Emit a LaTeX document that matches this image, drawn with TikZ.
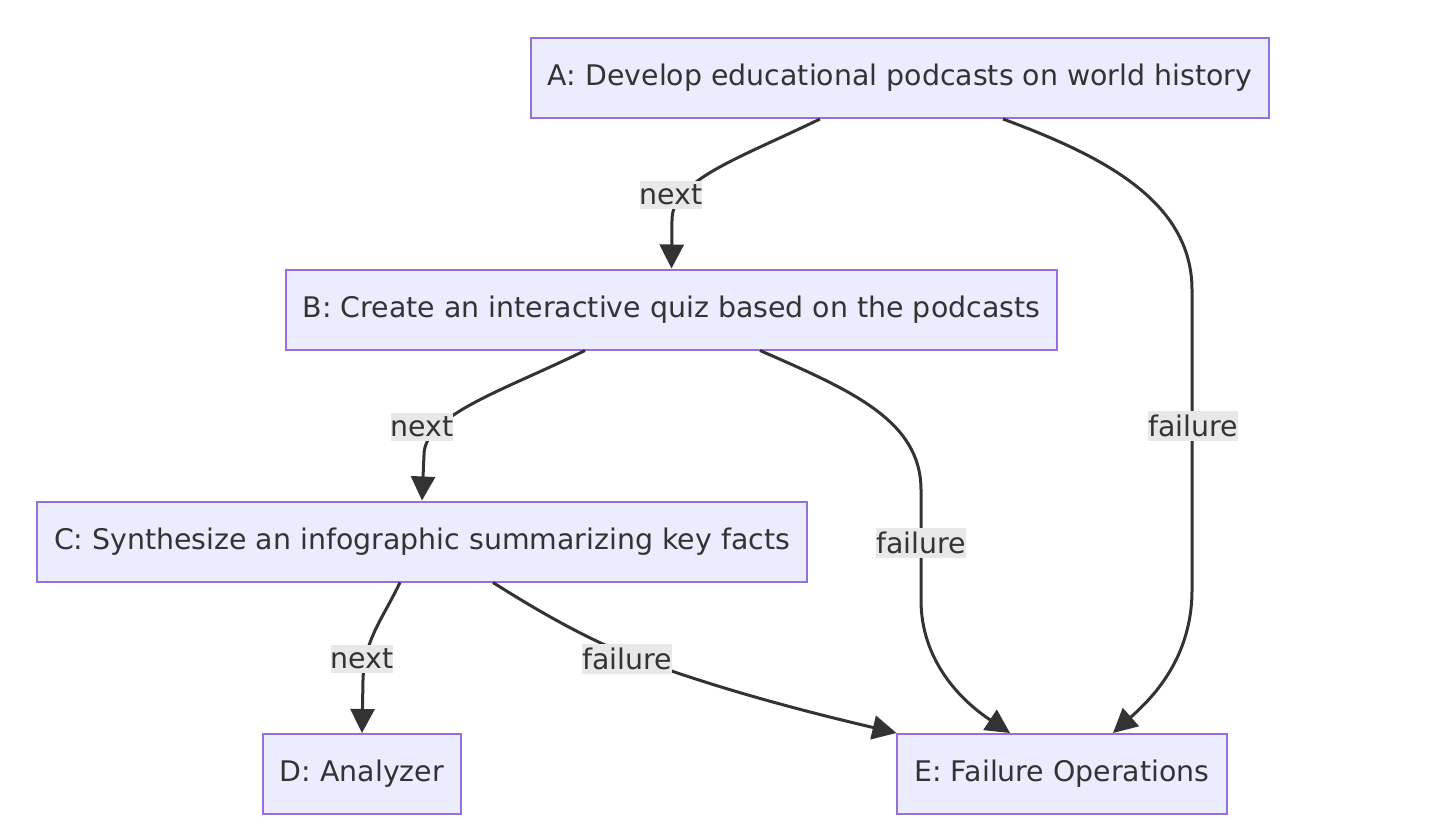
\documentclass[tikz,border=0pt]{standalone}
\usepackage{fontspec}
\setmainfont{DejaVu Sans}
\usetikzlibrary{arrows.meta}

\definecolor{boxfill}{HTML}{ECECFF}
\definecolor{boxline}{HTML}{9370DB}
\definecolor{ink}{HTML}{333333}
\definecolor{lblfill}{HTML}{E8E8E8}

\tikzset{
  stage/.style={draw=boxline, fill=boxfill, line width=1pt, text=ink,
    inner xsep=8.5pt, minimum height=40pt, font=\fontsize{14.2}{17}\selectfont},
  flow/.style={draw=ink, line width=1.5pt, -{Triangle[length=12pt,width=12pt]}},
  lbl/.style={fill=lblfill, text=ink, inner xsep=0pt, inner ysep=2pt,
    font=\fontsize{14.2}{17}\selectfont}
}

\begin{document}
\begin{tikzpicture}[x=0.5pt,y=-0.5pt]
   \useasboundingbox (0,0) rectangle (1434,840);
   \node[stage] (A) at (900,78) {A: Develop educational podcasts on world history};
   \node[stage] (B) at (671.5,309.5) {B: Create an interactive quiz based on the podcasts};
   \node[stage] (C) at (422,541.5) {C: Synthesize an infographic summarizing key facts};
   \node[stage] (D) at (362,774) {D: Analyzer};
   \node[stage] (E) at (1062,774) {E: Failure Operations};
   \draw[flow] ([xshift=-40pt]A.south) .. controls (740,158) and (672,180) .. (672,220) -- (B.north)
      node[lbl] at (671,195) {next};
   \draw[flow] ([xshift=51.5pt]A.south) .. controls (1100,155) and (1192,200) .. (1192,290) -- (1192,590)
      .. controls (1192,660) and (1150,700) .. ([xshift=25.5pt]E.north)
      node[lbl] at (1193,426) {failure};
   \draw[flow] ([xshift=-43.25pt]B.south) .. controls (505,390) and (424,415) .. (424,455) -- (C.north)
      node[lbl] at (422,427) {next};
   \draw[flow] ([xshift=44.25pt]B.south) .. controls (850,390) and (921,420) .. (921,490) -- (921,600)
      .. controls (921,660) and (960,700) .. ([xshift=-26pt]E.north)
      node[lbl] at (921,543) {failure};
   \draw[flow] ([xshift=-11pt]C.south) .. controls (382,620) and (364,640) .. (363,680) -- (D.north)
      node[lbl] at (362,659) {next};
   \draw[flow] ([xshift=35.5pt]C.south) .. controls (560,625) and (610,650) .. (660,667)
      .. controls (740,695) and (820,715) .. (E.north west)
      node[lbl] at (627,659) {failure};
\end{tikzpicture}
\end{document}
